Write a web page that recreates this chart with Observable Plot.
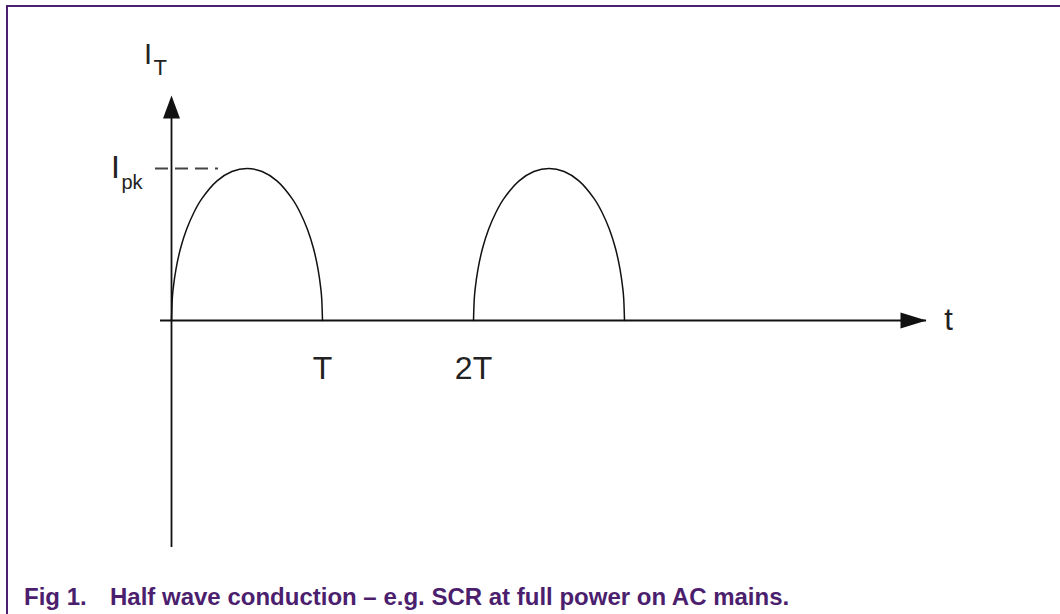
<!DOCTYPE html>
<html><head><meta charset="utf-8">
<script src="https://cdn.jsdelivr.net/npm/d3@7"></script>
<script src="https://cdn.jsdelivr.net/npm/@observablehq/plot@0.6"></script>
<style>
html,body{margin:0;padding:0;background:#fff;}
#wrap{position:relative;width:1060px;height:614px;overflow:hidden;font-family:"Liberation Sans",Arial,sans-serif;}
#top{position:absolute;left:6px;top:5px;width:1054px;height:2px;background:#4B1E6E;}
#left{position:absolute;left:6px;top:5px;width:2px;height:609px;background:#4B1E6E;}
#chart{position:absolute;left:0;top:0;}
.cap{position:absolute;top:585px;font-weight:bold;font-size:24px;line-height:24px;color:#4B1E6E;white-space:nowrap;}
</style></head>
<body>
<div id="wrap">
  <div id="chart"></div>
  <div id="top"></div><div id="left"></div>
  <div class="cap" style="left:24px">Fig 1.</div>
  <div class="cap" style="left:110px">Half wave conduction – e.g. SCR at full power on AC mains.</div>
</div>
<script>
// Half-cycle shape (time in units of T, current in units of Ipk)
const phase   = [0, 0.005, 0.01, 0.03, 0.06, 0.1, 0.15, 0.2, 0.3, 0.4, 0.5, 0.6, 0.7, 0.8, 0.85, 0.9, 0.94, 0.97, 0.99, 0.995, 1];
const current = [0, 0.14, 0.2, 0.34, 0.475, 0.6, 0.714, 0.8, 0.917, 0.98, 1, 0.98, 0.917, 0.8, 0.714, 0.6, 0.475, 0.34, 0.2, 0.14, 0];
const cycleStarts = [0, 2];          // conducting half cycles start at 0 and 2T
const tickValues = [1, 2];
const tickLabels = ["T", "2T"];
const peakLevel = 1;                 // Ipk
const timeAxisExtent = [-0.073, 5.0];
const currentAxisExtent = [-1.493, 1.48];
const peakDashExtent = [-0.106, 0.311];

const arcs = cycleStarts.flatMap(s => phase.map((p, i) => ({t: s + p, i: current[i], cycle: s})));

const arrowUp = {draw(ctx) { ctx.moveTo(0, 0); ctx.lineTo(-8.5, 23); ctx.lineTo(8.5, 23); ctx.closePath(); }};
const arrowRight = {draw(ctx) { ctx.moveTo(0, 0); ctx.lineTo(-26, -8); ctx.lineTo(-26, 8); ctx.closePath(); }};

const ink = "#111";
const chart = Plot.plot({
  width: 1060,
  height: 570,
  margin: 0,
  x: {domain: [0, 1], range: [171, 322], axis: null},
  y: {domain: [0, 1], range: [320, 168], axis: null},
  style: {fontFamily: "'Liberation Sans', Arial, sans-serif", background: "transparent", color: ink},
  marks: [
    // axes
    Plot.ruleY([0], {x1: timeAxisExtent[0], x2: timeAxisExtent[1], stroke: ink, strokeWidth: 1.8}),
    Plot.ruleX([0], {y1: currentAxisExtent[0], y2: currentAxisExtent[1] - 0.1, stroke: ink, strokeWidth: 1.8}),
    Plot.dot([0], {x: 0, y: currentAxisExtent[1], symbol: arrowUp, fill: ink, stroke: "none"}),
    Plot.dot([0], {x: timeAxisExtent[1], y: 0, symbol: arrowRight, fill: ink, stroke: "none"}),
    // peak dashed line
    Plot.ruleY([peakLevel], {x1: peakDashExtent[0], x2: peakDashExtent[1], stroke: "#444", strokeWidth: 2, strokeDasharray: "13,7"}),
    // half-wave arcs
    Plot.line(arcs, {x: "t", y: "i", z: "cycle", curve: "catmull-rom", stroke: ink, strokeWidth: 1.5}),
    // tick labels
    Plot.text(tickValues, {x: d => d, y: 0, text: (d, i) => tickLabels[i], dy: 58, lineAnchor: "bottom", fontSize: 32, fill: "#222"}),
    // axis labels
    Plot.text(["t"], {x: timeAxisExtent[1], y: 0, text: d => d, dx: 22, dy: 9, lineAnchor: "bottom", fontSize: 31, fill: "#222"}),
    Plot.text(["I"], {x: 0, y: currentAxisExtent[1], text: d => d, dx: -23.5, dy: -32, lineAnchor: "bottom", fontSize: 29, fill: "#222"}),
    Plot.text(["T"], {x: 0, y: currentAxisExtent[1], text: d => d, dx: -18, dy: -21, textAnchor: "start", lineAnchor: "bottom", fontSize: 22, fill: "#222"}),
    Plot.text(["I"], {x: 0, y: peakLevel, text: d => d, dx: -56, dy: 9, lineAnchor: "bottom", fontSize: 32, fill: "#222"}),
    Plot.text(["pk"], {x: 0, y: peakLevel, text: d => d, dx: -50, dy: 20, textAnchor: "start", lineAnchor: "bottom", fontSize: 20, fill: "#222"})
  ]
});
document.getElementById("chart").appendChild(chart);
</script>
</body></html>
